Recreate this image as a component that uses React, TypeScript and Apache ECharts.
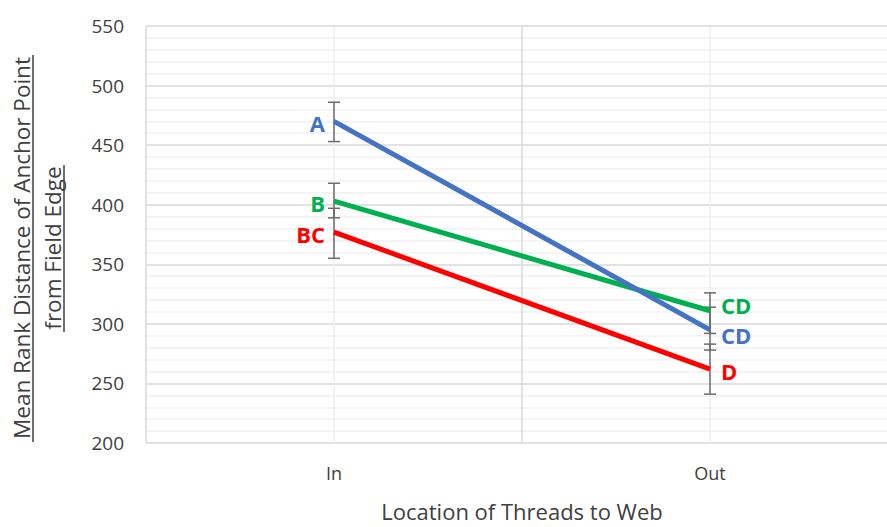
import React, { useEffect, useRef } from "react";
import * as echarts from "echarts";

const categories = ["In", "Out"];
const blueValues = [470, 295];
const greenValues = [403, 311];
const redValues = [377, 262];
const blueLow = [453, 278];
const blueHigh = [486, 314];
const greenLow = [389, 292];
const greenHigh = [418, 326];
const redLow = [355, 241];
const redHigh = [397, 283];
const blueLabels = ["A", "CD"];
const greenLabels = ["B", "CD"];
const redLabels = ["BC", "D"];
const yTicks = { min: 200, max: 550, interval: 50 };

const FONT = "'Open Sans', 'Noto Sans', sans-serif";
const TEXT = "#404040";

function lineSeries(name: string, color: string, values: number[], labels: string[], outShift: number) {
  return {
    type: "line",
    name,
    xAxisIndex: 0,
    yAxisIndex: 0,
    z: 3,
    symbol: "circle",
    symbolSize: 0,
    showSymbol: true,
    lineStyle: { color, width: 5 },
    itemStyle: { color },
    data: values.map((v, i) => ({
      value: v,
      label: {
        show: true,
        position: i === 0 ? "left" : "right",
        distance: i === 0 ? 9 : 11,
        offset: i === 0 ? [0, 2] : [0, outShift],
        formatter: labels[i],
        color,
        opacity: 1,
        fontFamily: FONT,
        fontWeight: "bold",
        fontSize: 22,
        lineHeight: 20,
      },
    })),
  };
}

function errorSeries(low: number[], high: number[]) {
  return {
    type: "custom",
    xAxisIndex: 0,
    yAxisIndex: 0,
    z: 2,
    data: low.map((l, i) => [i, l, high[i]]),
    renderItem: (params: any, api: any) => {
      const idx = api.value(0);
      const lo = api.coord([idx, api.value(1)]);
      const hi = api.coord([idx, api.value(2)]);
      const half = 6;
      const style = { stroke: "#6b6b6b", lineWidth: 1.5 };
      return {
        type: "group",
        children: [
          { type: "line", shape: { x1: lo[0], y1: lo[1], x2: hi[0], y2: hi[1] }, style },
          { type: "line", shape: { x1: lo[0] - half, y1: lo[1], x2: lo[0] + half, y2: lo[1] }, style },
          { type: "line", shape: { x1: hi[0] - half, y1: hi[1], x2: hi[0] + half, y2: hi[1] }, style },
        ],
      };
    },
  };
}

export default function App() {
  const ref = useRef<HTMLDivElement>(null);
  useEffect(() => {
    if (!ref.current) return;
    const chart = echarts.init(ref.current, undefined, { renderer: "svg" });
    chart.setOption({
      animation: false,
      backgroundColor: "#ffffff",
      grid: { left: 146, top: 26, width: 752, height: 421, containLabel: false },
      xAxis: [
        {
          type: "category",
          data: categories,
          boundaryGap: true,
          axisLine: { show: false },
          axisTick: { show: false },
          splitLine: { show: false },
          axisLabel: { color: TEXT, fontFamily: FONT, fontSize: 18, margin: 21 },
          name: "Location of Threads to Web",
          nameLocation: "middle",
          nameGap: 57,
          nameTextStyle: { color: TEXT, fontFamily: FONT, fontSize: 22 },
        },
        {
          type: "value",
          min: 0,
          max: 4,
          interval: 1,
          show: true,
          position: "bottom",
          axisLine: { show: false },
          axisTick: { show: false },
          axisLabel: { show: false },
          splitLine: { show: true, lineStyle: { color: ["#d9d9d9", "#eeeeee"], width: 1.5 } },
        },
      ],
      yAxis: {
        type: "value",
        min: yTicks.min,
        max: yTicks.max,
        interval: yTicks.interval,
        axisLine: { show: false },
        axisTick: { show: false },
        axisLabel: { color: TEXT, fontFamily: FONT, fontSize: 19, margin: 22 },
        splitLine: { show: true, lineStyle: { color: "#d9d9d9", width: 1.5 } },
        minorTick: { show: false, splitNumber: 5 },
        minorSplitLine: { show: true, lineStyle: { color: "#f0f0f0", width: 1.5 } },
      },
      graphic: [
        {
          type: "text",
          x: 21,
          y: 248,
          rotation: Math.PI / 2,
          style: {
            text: "Mean Rank Distance of Anchor Point",
            fill: TEXT,
            font: `22.5px ${FONT}`,
            align: "center",
            verticalAlign: "middle",
          },
        },
        {
          type: "text",
          x: 52,
          y: 248,
          rotation: Math.PI / 2,
          style: {
            text: "from Field Edge",
            fill: TEXT,
            font: `22.5px ${FONT}`,
            align: "center",
            verticalAlign: "middle",
          },
        },
        { type: "line", shape: { x1: 33, y1: 55, x2: 33, y2: 442 }, style: { stroke: TEXT, lineWidth: 1.5 } },
        { type: "line", shape: { x1: 64, y1: 165, x2: 64, y2: 332 }, style: { stroke: TEXT, lineWidth: 1.5 } },
      ],
      series: [
        errorSeries(blueLow, blueHigh),
        errorSeries(greenLow, greenHigh),
        errorSeries(redLow, redHigh),
        lineSeries("Green", "#00b050", greenValues, greenLabels, -6),
        lineSeries("Red", "#ff0000", redValues, redLabels, 2),
        lineSeries("Blue", "#4472c4", blueValues, blueLabels, 5),
      ],
    });
    return () => chart.dispose();
  }, []);
  return (
    <div style={{ position: "absolute", left: 0, top: 0, width: 887, height: 527, overflow: "hidden" }}>
      <div ref={ref} style={{ width: 900, height: 527 }} />
    </div>
  );
}
